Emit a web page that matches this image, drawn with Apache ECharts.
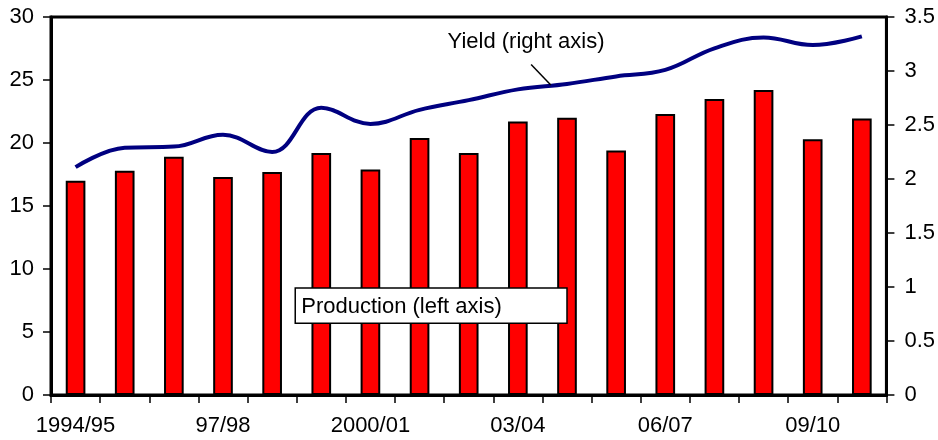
<!DOCTYPE html>
<html>
<head>
<meta charset="utf-8">
<script src="https://cdn.jsdelivr.net/npm/echarts@6/dist/echarts.min.js"></script>
<style>
  html, body { margin: 0; padding: 0; background: #fff; }
  #chart { width: 938px; height: 440px; }
</style>
</head>
<body>
<div id="chart"></div>
<script>
// Crop seasons
const seasons = ['1994/95', '95/96', '96/97', '97/98', '98/99', '99/00', '2000/01', '01/02', '02/03',
  '03/04', '04/05', '05/06', '06/07', '07/08', '08/09', '09/10', '10/11'];
// Production (left axis)
const production = [17.0, 17.8, 18.9, 17.3, 17.7, 19.2, 17.9, 20.4, 19.2, 21.7, 22.0, 19.4, 22.3, 23.5, 24.2, 20.3, 21.95];
// Yield (right axis)
const yieldValues = [2.11, 2.29, 2.30, 2.41, 2.25, 2.66, 2.51, 2.64, 2.73, 2.83, 2.88, 2.95, 3.01, 3.21, 3.31, 3.24, 3.32];

const FONT = '"Liberation Sans", Arial, sans-serif';
const FONT_SIZE = 22;
const chart = echarts.init(document.getElementById('chart'));

const axisLine = { show: true, lineStyle: { color: '#000', width: 3 } };
const tickStyle = { color: '#000', width: 1.5 };
const labelStyle = { color: '#000', fontSize: FONT_SIZE, fontFamily: FONT };

chart.setOption({
  animation: false,
  grid: { left: 51, right: 51, top: 17, bottom: 45, show: true, borderColor: '#000', borderWidth: 3 },
  xAxis: {
    type: 'category',
    data: seasons,
    boundaryGap: true,
    axisLine: axisLine,
    axisTick: { show: true, interval: 0, length: 8, inside: false, lineStyle: tickStyle },
    axisLabel: Object.assign({ interval: 2, margin: 20 }, labelStyle),
    splitLine: { show: false }
  },
  yAxis: [
    {
      type: 'value', position: 'left', min: 0, max: 30, interval: 5,
      axisLine: axisLine,
      axisTick: { show: true, length: 8, lineStyle: tickStyle },
      axisLabel: Object.assign({ margin: 17 }, labelStyle),
      splitLine: { show: false }
    },
    {
      type: 'value', position: 'right', min: 0, max: 3.5, interval: 0.5,
      axisLine: axisLine,
      axisTick: { show: true, length: 8, lineStyle: tickStyle },
      axisLabel: Object.assign({ margin: 18 }, labelStyle),
      splitLine: { show: false }
    }
  ],
  series: [
    {
      name: 'Production', type: 'bar', yAxisIndex: 0, data: production,
      barWidth: '40%',
      itemStyle: { color: '#ff0000', borderColor: '#000', borderWidth: 2 },
      z: 2
    },
    {
      name: 'Yield', type: 'line', yAxisIndex: 1, data: yieldValues,
      smooth: 0.4, showSymbol: false, symbol: 'none',
      lineStyle: { color: '#000080', width: 4 },
      z: 3
    }
  ]
});

// Series annotations, anchored to the axes (fractional category positions interpolated)
function px(pos, val, axisIdx) {
  const i0 = Math.floor(pos);
  const a = chart.convertToPixel({ xAxisIndex: 0, yAxisIndex: axisIdx }, [i0, val]);
  const b = chart.convertToPixel({ xAxisIndex: 0, yAxisIndex: axisIdx }, [i0 + 1, val]);
  return [a[0] + (b[0] - a[0]) * (pos - i0), a[1]];
}
const leadStart = px(9.27, 3.06, 1);
const leadEnd = px(9.67, 2.87, 1);
const yieldText = px(7.57, 3.27, 1);
const boxTopLeft = px(4.47, 8.5, 0);
const boxBottomRight = px(10.0, 5.7, 0);

chart.setOption({
  graphic: [
    {
      type: 'line', z: 10,
      shape: { x1: leadStart[0], y1: leadStart[1], x2: leadEnd[0], y2: leadEnd[1] },
      style: { stroke: '#000', lineWidth: 1.5 }
    },
    {
      type: 'text', z: 10, x: yieldText[0], y: yieldText[1],
      style: { text: 'Yield (right axis)', fill: '#000', font: FONT_SIZE + 'px ' + FONT, textVerticalAlign: 'middle' }
    },
    {
      type: 'rect', z: 10,
      shape: { x: boxTopLeft[0], y: boxTopLeft[1], width: boxBottomRight[0] - boxTopLeft[0], height: boxBottomRight[1] - boxTopLeft[1] },
      style: { fill: '#fff', stroke: '#000', lineWidth: 1.5 }
    },
    {
      type: 'text', z: 11, x: boxTopLeft[0] + 6, y: (boxTopLeft[1] + boxBottomRight[1]) / 2 + 1,
      style: { text: 'Production (left axis)', fill: '#000', font: FONT_SIZE + 'px ' + FONT, textVerticalAlign: 'middle' }
    }
  ]
});
</script>
</body>
</html>
